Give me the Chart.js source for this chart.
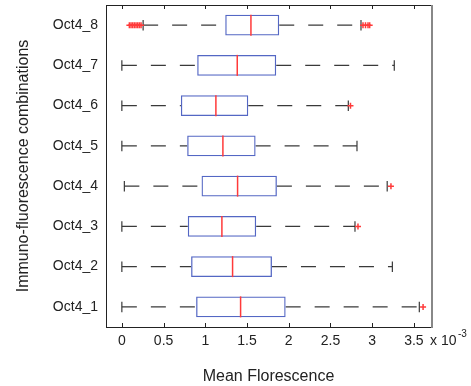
<!DOCTYPE html>
<html>
<head>
<meta charset="utf-8">
<script src="https://cdn.jsdelivr.net/npm/chart.js@4"></script>
<style>
  html, body { margin: 0; padding: 0; background: #fff; }
  #wrap { width: 471px; height: 386px; }
</style>
</head>
<body>
<div id="wrap"><canvas id="chart" width="471" height="386"></canvas></div>
<script>
// all values in units of 1e-3 (axis shows "x 10^-3")
const groups = ['Oct4_1', 'Oct4_2', 'Oct4_3', 'Oct4_4', 'Oct4_5', 'Oct4_6', 'Oct4_7', 'Oct4_8'];
const lowerWhisker = [0.0, 0.0, 0.0, 0.03, 0.0, 0.0, 0.0, 0.255];
const q1 = [0.89, 0.83, 0.79, 0.955, 0.783, 0.707, 0.903, 1.239];
const medians = [1.423, 1.327, 1.199, 1.387, 1.211, 1.127, 1.383, 1.547];
const q3 = [1.963, 1.799, 1.61, 1.858, 1.603, 1.515, 1.85, 1.886];
const upperWhisker = [3.565, 3.242, 2.794, 3.18, 2.818, 2.714, 3.265, 2.866];
const outliers = [
  [3.61],
  [],
  [2.83],
  [3.225],
  [],
  [2.74],
  [],
  [0.09, 0.11, 0.13, 0.15, 0.17, 0.19, 0.21, 0.23, 2.89, 2.92, 2.95, 2.97]
];
const xTicks = [0, 0.5, 1, 1.5, 2, 2.5, 3, 3.5];

const rows = groups.map((g, i) => i + 1);

const BLUE = '#5467c4';
const RED = '#ff3a3a';
const DARK = '#3a3a3a';
const FONT = '"Liberation Sans", Arial, sans-serif';

const datasets = [];

// medians
datasets.push({
  type: 'scatter',
  data: rows.map((y, i) => ({ x: medians[i], y })),
  pointStyle: 'line',
  pointRotation: 90,
  pointRadius: 10.5,
  borderColor: RED,
  borderWidth: 1.5
});

// boxes q1..q3
datasets.push({
  type: 'bar',
  indexAxis: 'y',
  data: rows.map((y, i) => ({ y, x: [q1[i], q3[i]] })),
  backgroundColor: 'rgba(0,0,0,0)',
  borderColor: BLUE,
  borderWidth: 1.3,
  borderSkipped: false,
  barPercentage: 0.52,
  categoryPercentage: 1
});

// outliers
datasets.push({
  type: 'scatter',
  data: rows.flatMap((y, i) => outliers[i].map(v => ({ x: v, y }))),
  pointStyle: 'cross',
  pointRadius: 3,
  borderColor: RED,
  borderWidth: 1.5
});

// whisker caps
datasets.push({
  type: 'scatter',
  data: rows.flatMap((y, i) => [{ x: lowerWhisker[i], y }, { x: upperWhisker[i], y }]),
  pointStyle: 'line',
  pointRotation: 90,
  pointRadius: 5.25,
  borderColor: DARK,
  borderWidth: 1.2
});

// dashed whiskers, one line per side per row
rows.forEach((y, i) => {
  [[lowerWhisker[i], q1[i]], [q3[i], upperWhisker[i]]].forEach(([a, b]) => {
    datasets.push({
      type: 'line',
      data: [{ x: a, y }, { x: b, y }],
      borderColor: DARK,
      borderWidth: 1.2,
      borderDash: [15, 14],
      pointRadius: 0
    });
  });
});

// box frame, inward tick marks and the axis exponent
const framePlugin = {
  id: 'frame',
  afterDatasetsDraw(chart) {
    const { ctx, chartArea: a, scales: { x } } = chart;
    ctx.save();
    ctx.strokeStyle = '#222';
    ctx.lineWidth = 1;
    ctx.beginPath();
    x.ticks.forEach(t => {
      const px = Math.round(x.getPixelForValue(t.value)) + 0.5;
      ctx.moveTo(px, a.bottom);
      ctx.lineTo(px, a.bottom - 4);
      ctx.moveTo(px, a.top);
      ctx.lineTo(px, a.top + 4);
    });
    ctx.stroke();
    ctx.strokeRect(Math.round(a.left) + 0.5, Math.round(a.top) + 0.5,
      Math.round(a.right - a.left), Math.round(a.bottom - a.top));
    ctx.strokeStyle = '#888';
    ctx.lineWidth = 2;
    ctx.beginPath();
    ctx.moveTo(Math.round(a.right) + 1, a.top);
    ctx.lineTo(Math.round(a.right) + 1, a.bottom + 1);
    ctx.stroke();

    ctx.fillStyle = '#222';
    ctx.textBaseline = 'middle';
    ctx.textAlign = 'left';
    ctx.font = '14px ' + FONT;
    const ty = a.bottom + 14;
    ctx.fillText('x 10', a.right - 1, ty);
    ctx.font = '10px ' + FONT;
    ctx.fillText('-3', a.right + 27, ty - 7);
    ctx.restore();
  }
};

new Chart(document.getElementById('chart'), {
  type: 'scatter',
  data: { datasets },
  options: {
    responsive: false,
    animation: false,
    events: [],
    layout: { autoPadding: false, padding: { top: 5, right: 40, left: 0, bottom: 0 } },
    plugins: {
      legend: { display: false },
      tooltip: { enabled: false }
    },
    scales: {
      x: {
        type: 'linear',
        min: -0.19,
        max: 3.705,
        offset: false,
        grid: { display: false, drawTicks: false },
        border: { display: false },
        afterBuildTicks: s => { s.ticks = xTicks.map(v => ({ value: v })); },
        afterFit: s => { s.height = 59; s.paddingLeft = 0; s.paddingRight = 0; },
        ticks: {
          color: '#222',
          font: { family: FONT, size: 14 },
          padding: 6,
          maxRotation: 0,
          callback: v => String(v)
        },
        title: {
          display: true,
          text: 'Mean Florescence',
          color: '#222',
          font: { family: FONT, size: 16 },
          padding: { top: 0, bottom: 0 }
        }
      },
      y: {
        type: 'linear',
        min: 0.5,
        max: 8.5,
        offset: false,
        grid: { display: false, drawTicks: false, offset: false },
        border: { display: false },
        afterBuildTicks: s => { s.ticks = rows.map(v => ({ value: v })); },
        afterFit: s => { s.width = 106; s.paddingTop = 0; s.paddingBottom = 0; },
        ticks: {
          color: '#222',
          font: { family: FONT, size: 14 },
          padding: 8,
          callback: v => groups[v - 1]
        },
        title: {
          display: true,
          text: 'Immuno-fluorescence combinations',
          color: '#222',
          font: { family: FONT, size: 16 },
          padding: { top: 14, bottom: 0 }
        }
      }
    }
  },
  plugins: [framePlugin]
});
</script>
</body>
</html>
